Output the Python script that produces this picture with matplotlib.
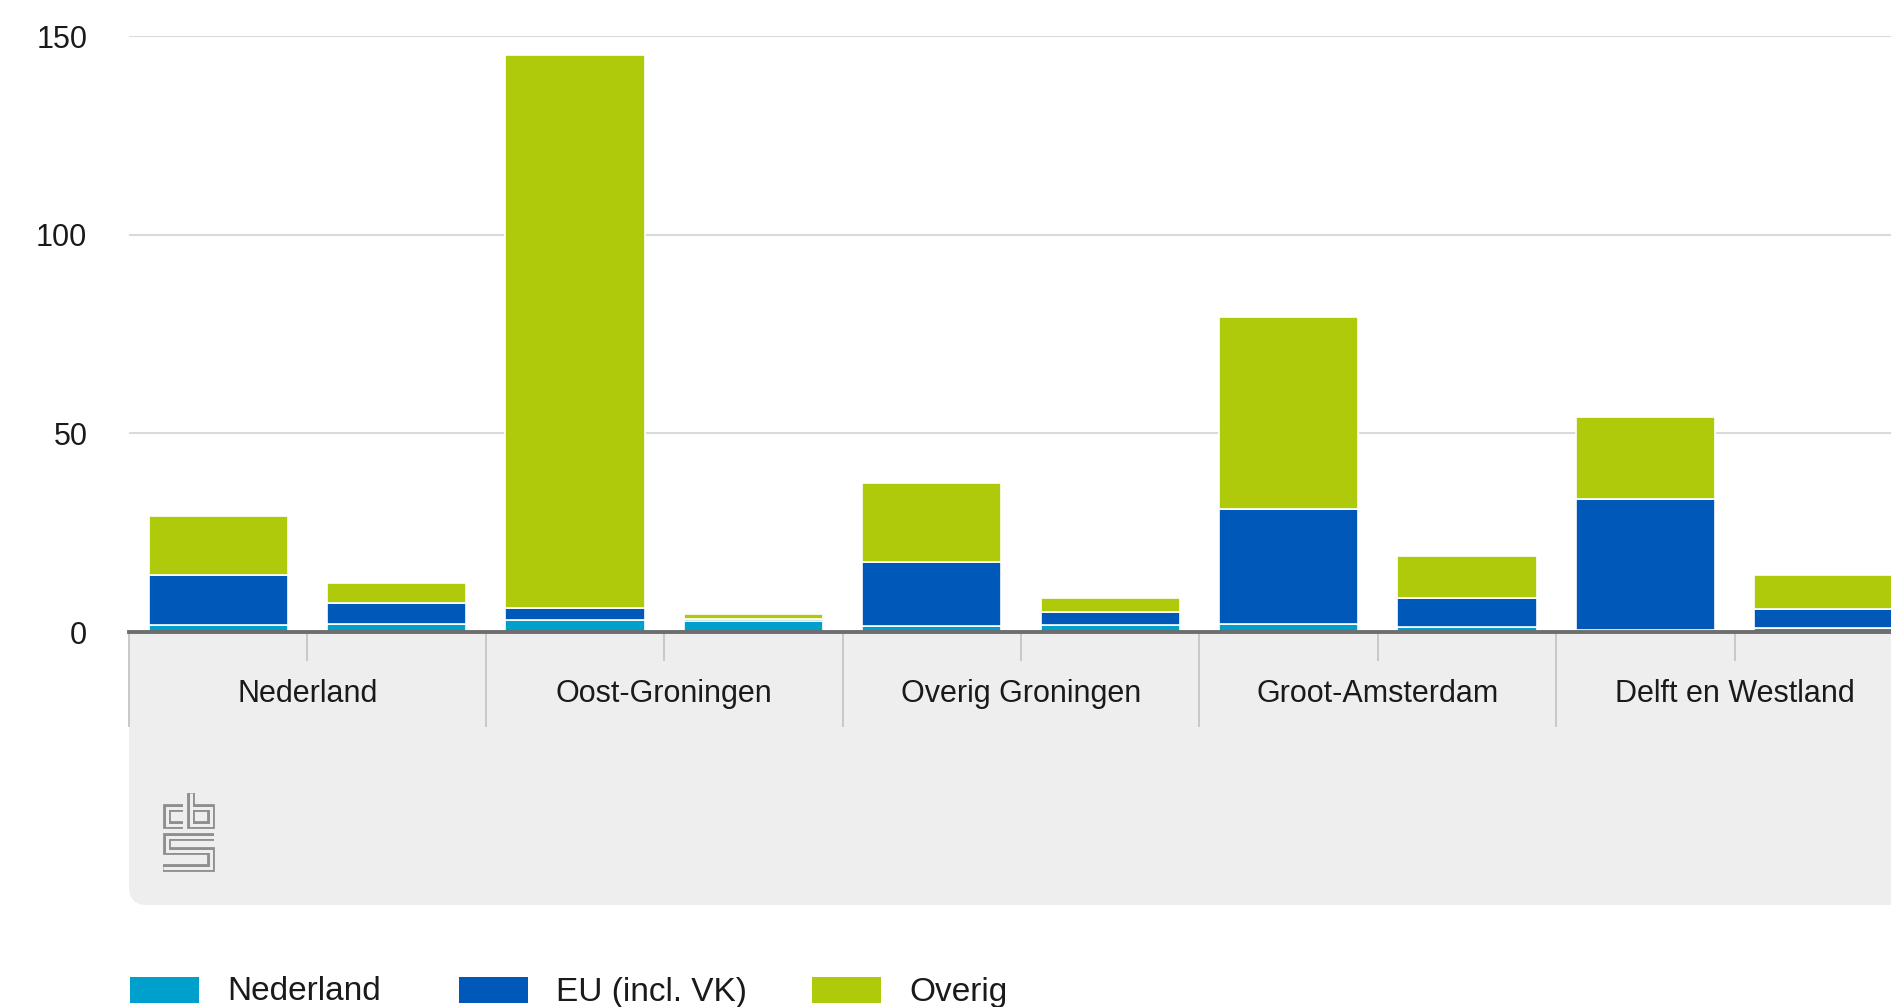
import matplotlib
matplotlib.use("Agg")
import matplotlib.pyplot as plt
from matplotlib.patches import Rectangle, FancyBboxPatch
from matplotlib.lines import Line2D
from matplotlib.transforms import IdentityTransform

W, H = 1891, 1007

# Gegevens
categorieen = ["Nederland", "Oost-Groningen", "Overig Groningen", "Groot-Amsterdam", "Delft en Westland"]
reeksen = ["Nederland", "EU (incl. VK)", "Overig"]

# eerste staaf per regio
ned_a = [1.8, 3.0, 1.5, 2.0, 0.5]
eu_a = [12.5, 3.0, 16.0, 28.9, 32.9]
overig_a = [14.8, 139.2, 20.0, 48.5, 20.6]

# tweede staaf per regio
ned_b = [2.0, 2.8, 1.8, 1.3, 1.0]
eu_b = [5.3, 0.5, 3.2, 7.2, 4.8]
overig_b = [5.0, 1.2, 3.6, 10.6, 8.5]

yticks = [0, 50, 100, 150]

kleuren = ["#00a0cc", "#0058b8", "#afca0b"]
tekstkleur = "#1a1a1a"
grijs_vlak = "#eeeeee"

plt.rcParams['font.family'] = ['Liberation Sans', 'DejaVu Sans']

fig = plt.figure(figsize=(W / 100, H / 100), dpi=100)

def fx(x):
    return x / W

def fy(y):
    return 1 - y / H

links, rechts, boven, onder = 129, 1913, 36, 632
ax = fig.add_axes([fx(links), fy(onder), fx(rechts) - fx(links), fy(boven) - fy(onder)])

def ay(y):
    # pixel-y naar assenfractie
    return (onder - y) / (onder - boven)

breedte = 0.78
for i in range(len(categorieen)):
    for pos, (n, e, o) in [(2 * i + 0.5, (ned_a[i], eu_a[i], overig_a[i])),
                           (2 * i + 1.5, (ned_b[i], eu_b[i], overig_b[i]))]:
        onderkant = 0
        for waarde, kleur in zip((n, e, o), kleuren):
            ax.bar(pos, waarde, bottom=onderkant, width=breedte, color=kleur,
                   edgecolor="white", linewidth=1.2, zorder=3)
            onderkant += waarde

ax.set_xlim(0, 2 * len(categorieen))
ax.set_ylim(0, 150)
ax.set_yticks(yticks)
ax.set_xticks([])
ax.tick_params(axis="y", length=0, pad=30, labelsize=22, labelcolor=tekstkleur)
ax.yaxis.grid(True, color="#dadada", linewidth=1.5)
ax.set_axisbelow(True)
for s in ax.spines.values():
    s.set_visible(False)

ax.axhline(0, color="#6e6e6e", linewidth=2.8, zorder=5, clip_on=False)

# categorie-as met grijs vlak
xt = ax.get_xaxis_transform()
for i in range(len(categorieen) + 1):
    ax.plot([2 * i, 2 * i], [0, ay(726)], transform=xt, color="#c4c4c4",
            linewidth=1.3, clip_on=False, zorder=2)
for i, cat in enumerate(categorieen):
    ax.plot([2 * i + 1, 2 * i + 1], [0, ay(660)], transform=xt, color="#c4c4c4",
            linewidth=1.3, clip_on=False, zorder=2)
    ax.text(2 * i + 1, ay(694), cat, transform=xt, ha="center", va="center",
            fontsize=22, color=tekstkleur, clip_on=False)

idt = IdentityTransform()
fig.add_artist(Rectangle((links, H - 800), W, 800 - 633, transform=idt,
                         facecolor=grijs_vlak, edgecolor="none", zorder=-1))
fig.add_artist(FancyBboxPatch((links, H - 905), W, 200, transform=idt,
                              boxstyle="round,pad=0,rounding_size=18",
                              facecolor=grijs_vlak, edgecolor="none", zorder=-1))

# cbs-logo
logo = [
    [(183.3, 808.3), (166.7, 808.3), (166.7, 825), (183.3, 825)],
    [(190.7, 793.3), (190.7, 825), (210.7, 825), (210.7, 808.3), (190.7, 808.3)],
    [(214, 837.3), (166.7, 837.3), (166.7, 850.7), (210.7, 850.7), (210.7, 867.7), (163.3, 867.7)],
]
for pad in logo:
    xs = [p[0] for p in pad]
    ys = [H - p[1] for p in pad]
    fig.add_artist(Line2D(xs, ys, transform=idt, color="#8e8e8e", linewidth=5.6,
                          solid_capstyle="butt", solid_joinstyle="miter"))
    fig.add_artist(Line2D(xs, ys, transform=idt, color=grijs_vlak, linewidth=2.2,
                          solid_capstyle="butt", solid_joinstyle="miter"))

# legenda
leg_x = [130, 459, 812]
for x0, naam, kleur in zip(leg_x, reeksen, kleuren):
    fig.add_artist(Rectangle((x0, H - 1003), 69, 26, transform=idt,
                             facecolor=kleur, edgecolor="none"))
    fig.text(fx(x0 + 97), fy(992), naam, ha="left", va="center",
             fontsize=24, color=tekstkleur)

fig.savefig("out.png", dpi=100)
